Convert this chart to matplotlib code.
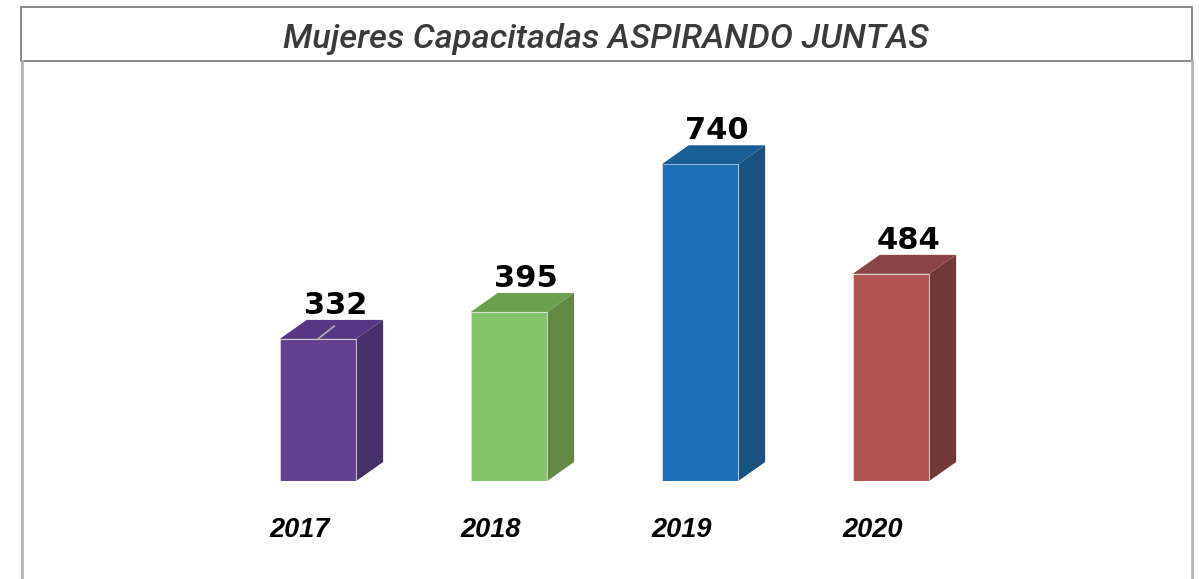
import numpy as np
import matplotlib
matplotlib.use('Agg')
import matplotlib.pyplot as plt
from matplotlib.patches import Polygon, Rectangle
from matplotlib.lines import Line2D

years = ['2017', '2018', '2019', '2020']
values = [332, 395, 740, 484]
front_colors = ['#65418F', '#84C46A', '#1D70B7', '#B35552']
top_colors = ['#573783', '#6C9F4E', '#1A5E96', '#8A4443']
side_colors = ['#48306B', '#628943', '#175281', '#723737']
title = 'Mujeres Capacitadas ASPIRANDO JUNTAS'

W, H = 1199, 579
fig = plt.figure(figsize=(W / 100, H / 100), dpi=100)
fig.patch.set_facecolor('white')

# axes placed so that bar centres land where the reference has them
ax = fig.add_axes([31.5 / W, (H - 481) / H, 1050.5 / W, 385.2 / H])
ax.set_xlim(-1.5, 4.0)
ax.set_ylim(0, 900)
ax.axis('off')

x = np.arange(len(years))
bw = 0.40          # front face width
dx = 0.141         # depth (x units)
dy = 44.4          # depth (value units)

ax.bar(x, values, width=bw, color=front_colors, edgecolor='#dcdcdc', linewidth=0.6, zorder=3)

for i, v in enumerate(values):
    x0, x1 = x[i] - bw / 2, x[i] + bw / 2
    top = Polygon([(x0, v), (x1, v), (x1 + dx, v + dy), (x0 + dx, v + dy)],
                  closed=True, facecolor=top_colors[i], edgecolor='none', zorder=3)
    side = Polygon([(x1, 0), (x1 + dx, dy), (x1 + dx, v + dy), (x1, v)],
                   closed=True, facecolor=side_colors[i], edgecolor='none', zorder=2)
    ax.add_patch(top)
    ax.add_patch(side)
    ax.text(x[i] + 0.09, v + dy + 14, str(v), ha='center', va='baseline',
            fontsize=22, fontweight='bold', color='black', family='DejaVu Sans')
    ax.text(x[i] - 0.095, -114, years[i], ha='center', va='center',
            fontsize=19.5, fontweight='bold', fontstyle='italic',
            family=['Liberation Sans', 'DejaVu Sans'], clip_on=False)

# small leader line on first bar
ax.plot([x[0], x[0] + 0.085], [values[0], values[0] + 30], color='#b0b0b0', lw=1.2, zorder=4)

# frame: title box and side rules
def fx(px):
    return px / W

def fy(py):
    return 1 - py / H

fig.patches.append(Rectangle((fx(21), fy(61)), fx(1192) - fx(21), fy(7) - fy(61),
                             transform=fig.transFigure, fill=False,
                             edgecolor='#7f7f7f', linewidth=1.3))
fig.lines.append(Line2D([fx(22), fx(22)], [0, fy(61)], transform=fig.transFigure,
                        color='#b3b3b3', linewidth=2))
fig.lines.append(Line2D([fx(1192), fx(1192)], [0, fy(61)], transform=fig.transFigure,
                        color='#b3b3b3', linewidth=2))

fig.text(fx(606), fy(48), title, ha='center', va='baseline', fontsize=24.8,
         fontstyle='italic', fontweight='medium', color='#3a3a3a',
         family=['Roboto', 'DejaVu Sans'])

fig.savefig('out.png', dpi=100)
